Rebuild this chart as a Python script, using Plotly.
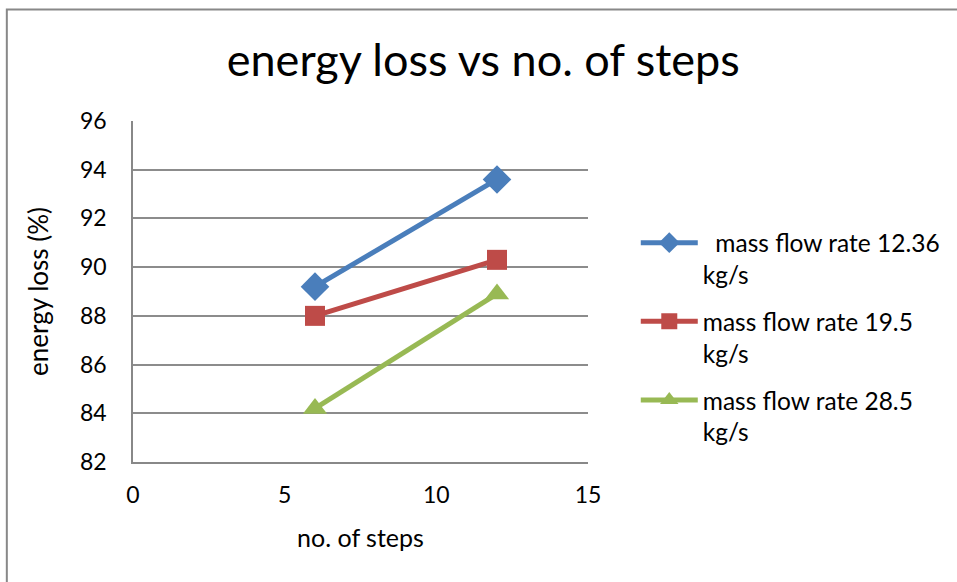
import plotly.graph_objects as go

# number of steps on the x axis
steps = [6, 12]

# energy loss (%) for each mass flow rate
loss_12_36 = [89.2, 93.6]
loss_19_5 = [88.0, 90.3]
loss_28_5 = [84.2, 88.9]

series_names = [
    "  mass flow rate 12.36<br>kg/s",
    "mass flow rate 19.5<br>kg/s",
    "mass flow rate 28.5<br>kg/s",
]
series_colors = ["#4a7ebb", "#be4b48", "#98b954"]
series_symbols = ["diamond", "square", "triangle-up"]
series_marker_sizes = [22, 20, 21]

x_ticks = [0, 5, 10, 15]
y_ticks = [82, 84, 86, 88, 90, 92, 94, 96]

FONT = "Lato, Roboto, sans-serif"

fig = go.Figure()
for i, (name, ys, color, sym, msize) in enumerate(zip(
        series_names, [loss_12_36, loss_19_5, loss_28_5],
        series_colors, series_symbols, series_marker_sizes)):
    fig.add_trace(go.Scatter(
        x=steps, y=ys, name=name, mode="lines+markers", legendgroup=f"g{i}",
        line=dict(color=color, width=5),
        marker=dict(symbol=sym, size=msize, color=color),
    ))

fig.update_layout(
    width=957, height=582,
    margin=dict(l=133, r=366, t=121, b=120),
    paper_bgcolor="white", plot_bgcolor="white",
    font=dict(family=FONT, color="black", size=22),
    title=dict(text="energy loss vs no. of steps", x=0.505, xanchor="center",
               y=0.897, yanchor="middle", font=dict(size=45, family=FONT)),
    xaxis=dict(range=[0, 15], tickvals=x_ticks, showgrid=False, zeroline=False,
               showline=True, linecolor="#888888", linewidth=1.5,
               ticks="", ticklabelstandoff=12, tickfont=dict(size=23),
               title=dict(text="no. of steps", standoff=22, font=dict(size=25))),
    yaxis=dict(range=[82, 96], tickvals=y_ticks, showgrid=True, gridcolor="#8c8c8c",
               gridwidth=1.5, zeroline=False, showline=True, linecolor="#888888",
               linewidth=1.5, ticks="", ticklabelstandoff=20, tickfont=dict(size=23),
               title=dict(text="energy loss (%)", standoff=24, font=dict(size=26))),
    legend=dict(x=1.105, xanchor="left", y=0.709, yanchor="top",
                font=dict(size=24.5), tracegroupgap=12, itemwidth=57,
                valign="top", bgcolor="rgba(0,0,0,0)"),
    showlegend=True,
    shapes=[dict(type="rect", xref="paper", yref="paper",
                 x0=(6 - 133) / 458, x1=(1000 - 133) / 458,
                 y0=(462 - 650) / 341, y1=(462 - 9.5) / 341,
                 line=dict(color="#888888", width=2), fillcolor="rgba(0,0,0,0)",
                 layer="below")],
)

fig.write_html("out.html")
